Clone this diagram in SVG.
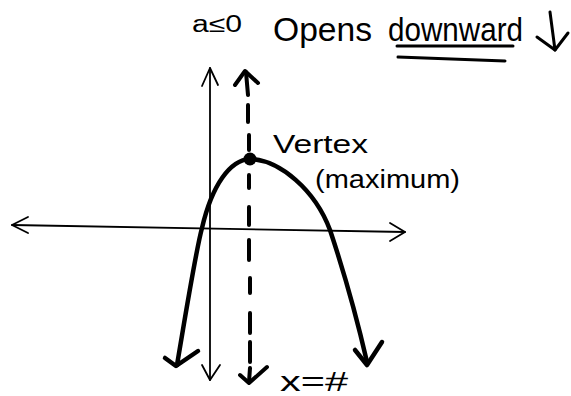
<svg xmlns="http://www.w3.org/2000/svg" width="571" height="396" viewBox="0 0 571 396">
  <style>
    .axis { fill: none; stroke: #000; stroke-width: 1.8; stroke-linecap: round; stroke-linejoin: round; }
    .thick { fill: none; stroke: #000; stroke-width: 4.5; stroke-linecap: round; stroke-linejoin: round; }
    .dash { fill: none; stroke: #000; stroke-width: 4; stroke-linecap: round; stroke-linejoin: round; }
    .pen { fill: none; stroke: #000; stroke-width: 3; stroke-linecap: round; stroke-linejoin: round; }
    .hand { font-family: "Liberation Sans", "DejaVu Sans", sans-serif; fill: #000; }
  </style>
  <rect width="571" height="396" fill="#fff"/>

  <g id="x-axis">
    <path class="axis" d="M 12 225 L 405 232"/>
    <path class="axis" d="M 28 217 L 12 225 L 28 233"/>
    <path class="axis" d="M 390 223 L 405 232 L 390 241"/>
  </g>

  <g id="y-axis">
    <path class="axis" d="M 210 68 L 210 380"/>
    <path class="axis" d="M 202 86 L 210 68 L 218 85"/>
    <path class="axis" d="M 202 365 L 210 380 L 220 365"/>
  </g>

  <g id="axis-of-symmetry">
    <path class="dash" d="M 246 72 L 248 95 M 248 105 L 248 122 M 249 135 L 249 150 M 249 175 L 249 188 M 249 207 L 249 225 M 249 240 L 249 260 M 250 278 L 250 293 M 250 313 L 250 333 M 250 342 L 250 362 M 250 368 L 249 382"/>
    <path class="dash" d="M 235 85 L 245 71 L 258 83"/>
    <path class="dash" d="M 240 375 L 249 383 L 267 367"/>
  </g>

  <g id="parabola">
    <path class="thick" d="M 177 365 C 188 300, 196 250, 202 228 C 212 185, 230 160, 250 159 C 280 160, 315 190, 330 230 C 340 260, 355 310, 367 362"/>
    <path class="thick" d="M 165 358 L 176 366 L 198 351"/>
    <path class="thick" d="M 355 350 L 367 365 L 382 342"/>
  </g>

  <g id="vertex">
    <circle cx="250" cy="159" r="6.5" fill="#000"/>
    <text class="hand" x="273" y="153" font-size="25" textLength="95" lengthAdjust="spacingAndGlyphs">Vertex</text>
    <text class="hand" x="315" y="188" font-size="26" textLength="145" lengthAdjust="spacingAndGlyphs">(maximum)</text>
  </g>

  <g id="condition">
    <text class="hand" x="192" y="32" font-size="23" textLength="50" lengthAdjust="spacingAndGlyphs">a≤0</text>
  </g>

  <g id="opens-downward">
    <text class="hand" x="273" y="41" font-size="33" textLength="99" lengthAdjust="spacingAndGlyphs">Opens</text>
    <text class="hand" x="388" y="41" font-size="33" textLength="135" lengthAdjust="spacingAndGlyphs">downward</text>
    <path class="pen" d="M 397 46 L 513 46"/>
    <path class="pen" d="M 398 57 L 505 61"/>
    <path class="pen" d="M 550 12 L 555 50"/>
    <path class="pen" d="M 537 37 L 555 50 L 568 33"/>
  </g>

  <g id="symmetry-label">
    <text class="hand" x="280" y="391" font-size="27" textLength="68" lengthAdjust="spacingAndGlyphs">x=#</text>
  </g>
</svg>
